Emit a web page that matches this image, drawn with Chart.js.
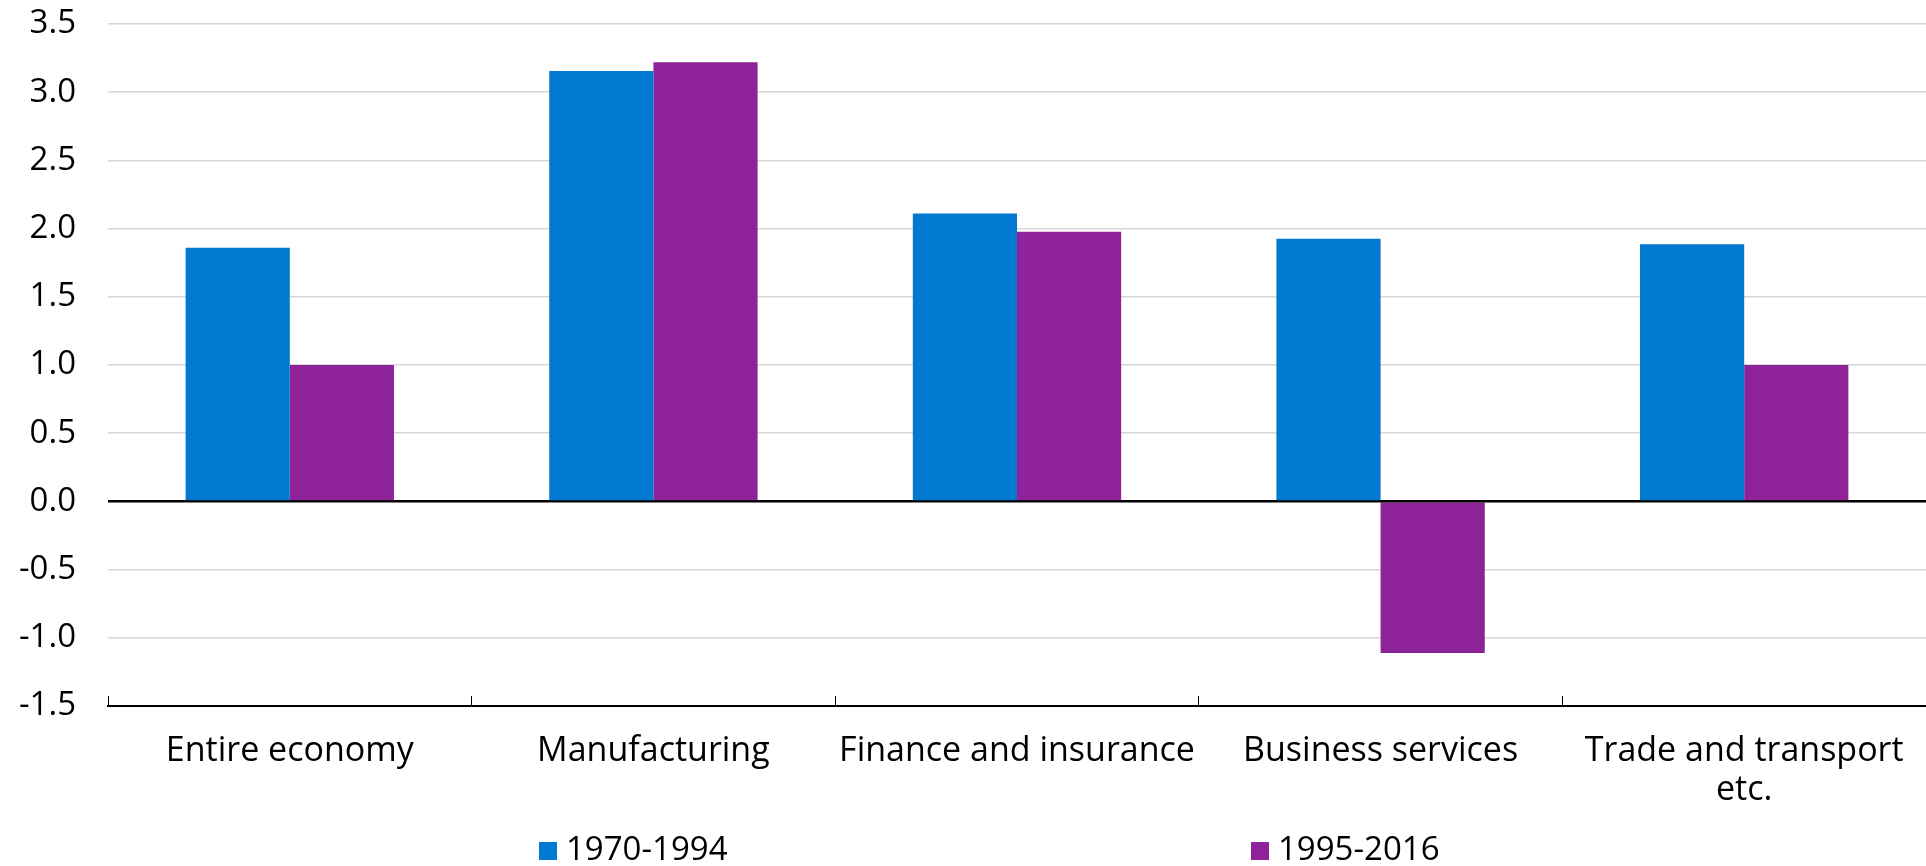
<!DOCTYPE html>
<html lang="en">
<head>
  <meta charset="UTF-8">
  <title>Productivity growth by sector</title>
  <script src="https://cdn.jsdelivr.net/npm/chart.js"></script>
  <style>
    html, body { margin: 0; padding: 0; background: #fff; overflow: hidden; }
    .wrap { position: relative; width: 1926px; height: 866px; }
    canvas { display: block; }
    .box { position: absolute; top: 842px; width: 18px; height: 18px; }
    .txt {
      position: absolute; top: 829px; line-height: 38px; white-space: nowrap;
      font-family: 'Open Sans', sans-serif; font-size: 33px; color: #000;
    }
  </style>
</head>
<body>
<div class="wrap">
  <canvas id="chart" width="1926" height="866"></canvas>
  <!-- legend -->
  <div class="box" id="box1" style="left:539px"></div>
  <div class="txt" id="txt1" style="left:566px"></div>
  <div class="box" id="box2" style="left:1251px"></div>
  <div class="txt" id="txt2" style="left:1278px"></div>
</div>

<script>
    // Data
    const sectors = ['Entire economy', 'Manufacturing', 'Finance and insurance', 'Business services', ['Trade and transport', 'etc.']];
    const period1 = [1.86, 3.155, 2.11, 1.925, 1.886];
    const period2 = [1.0, 3.22, 1.977, -1.111, 1.0];
    const seriesNames = ['1970-1994', '1995-2016'];
    const yTicks = [-1.5, -1.0, -0.5, 0.0, 0.5, 1.0, 1.5, 2.0, 2.5, 3.0, 3.5];

    const blue = '#0279d0';
    const purple = '#8e2298';
    const font = 'Open Sans';

    // HTML legend
    document.getElementById('box1').style.background = blue;
    document.getElementById('box2').style.background = purple;
    document.getElementById('txt1').innerText = seriesNames[0];
    document.getElementById('txt2').innerText = seriesNames[1];

    // zero line drawn on top of the bars
    const zeroLine = {
        id: 'zeroLine',
        afterDatasetsDraw(chart) {
            const y = chart.scales.y.getPixelForValue(0);
            const c = chart.ctx;
            c.save();
            c.strokeStyle = '#000';
            c.lineWidth = 2;
            c.beginPath();
            c.moveTo(chart.chartArea.left, y);
            c.lineTo(chart.chartArea.right, y);
            c.stroke();
            c.restore();
        }
    };

    const ctx = document.getElementById('chart').getContext('2d');

    const myChart = new Chart(ctx, {
        type: 'bar',
        data: {
            labels: sectors,
            datasets: [{
                label: seriesNames[0],
                data: period1,
                backgroundColor: blue,
                barPercentage: 1,
                categoryPercentage: 0.573,
            },
            {
                label: seriesNames[1],
                data: period2,
                backgroundColor: purple,
                barPercentage: 1,
                categoryPercentage: 0.573,
            }]
        },
        options: {
            responsive: false,
            animation: false,
            layout: {
                padding: { top: 24, left: 0, right: 0, bottom: 0 }
            },
            scales: {
                x: {
                    // fixed axis size, no extra side padding from the labels
                    afterFit: (axis) => { axis.height = 160; axis.paddingLeft = 0; axis.paddingRight = 0; },
                    grid: {
                        drawOnChartArea: false,
                        drawTicks: true,
                        tickLength: -10,
                        color: '#000',
                        lineWidth: 1,
                    },
                    border: { display: true, color: '#000', width: 2 },
                    ticks: {
                        color: '#000',
                        font: { family: font, size: 34, lineHeight: 1.15 },
                        padding: 36,
                        maxRotation: 0,
                        autoSkip: false,
                    }
                },
                y: {
                    min: -1.5,
                    max: 3.5,
                    afterBuildTicks: (axis) => { axis.ticks = yTicks.map(v => ({ value: v })); },
                    afterFit: (axis) => { axis.width = 108; axis.paddingTop = 0; axis.paddingBottom = 0; },
                    grid: {
                        drawTicks: false,
                        color: (c) => c.tick && c.tick.value === 0 ? '#000' : '#d6d6d6',
                        lineWidth: (c) => c.tick && c.tick.value === 0 ? 2 : 1.5,
                    },
                    border: { display: false },
                    ticks: {
                        color: '#000',
                        font: { family: font, size: 33 },
                        padding: 32,
                        callback: (v) => Number(v).toFixed(1),
                    }
                }
            },
            plugins: {
                legend: { display: false },
                tooltip: { enabled: false }
            }
        },
        plugins: [zeroLine]
    });
</script>
</body>
</html>
